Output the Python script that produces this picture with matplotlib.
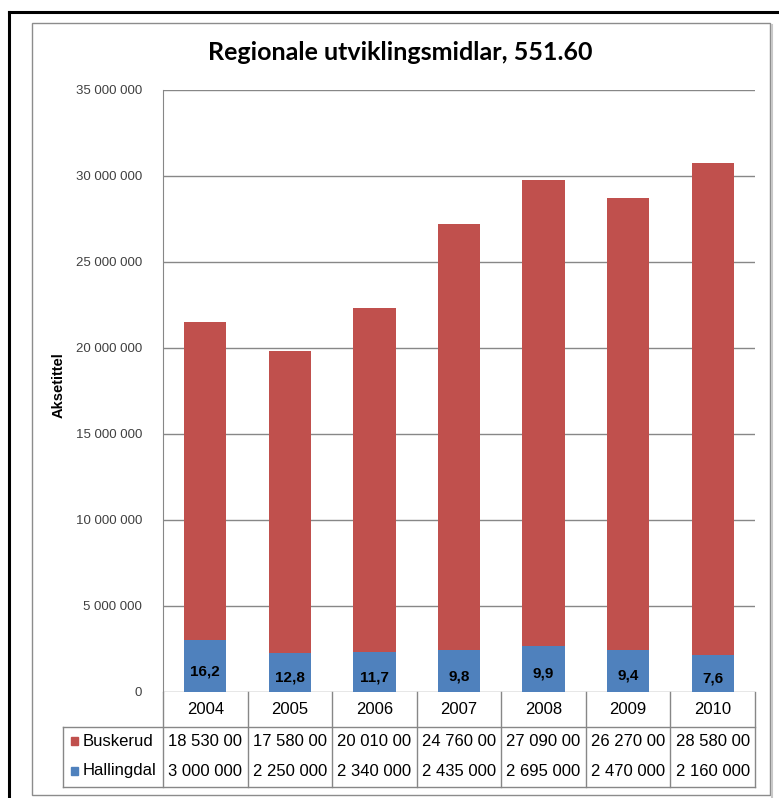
import matplotlib
matplotlib.use("Agg")
import matplotlib.pyplot as plt
from matplotlib.patches import Rectangle
from matplotlib.lines import Line2D
from matplotlib.ticker import FuncFormatter

# --- data ---
years = ["2004", "2005", "2006", "2007", "2008", "2009", "2010"]
buskerud = [18530000, 17580000, 20010000, 24760000, 27090000, 26270000, 28580000]
hallingdal = [3000000, 2250000, 2340000, 2435000, 2695000, 2470000, 2160000]
share_labels = ["16,2", "12,8", "11,7", "9,8", "9,9", "9,4", "7,6"]

red = "#C0504D"
blue = "#4F81BD"
grid_col = "#878787"
txt_col = "#404040"
font = ["Liberation Sans", "DejaVu Sans"]

W, H = 779, 798
fig = plt.figure(figsize=(W / 100, H / 100), dpi=100)

def fx(px):
    return px / W

def fy(py):
    return 1 - py / H

# outer frame (black on top/left) and gray chart border
fig.add_artist(Line2D([fx(9), fx(779)], [fy(12), fy(12)], color="black", lw=2.2))
fig.add_artist(Line2D([fx(9), fx(9)], [fy(12), fy(798)], color="black", lw=2.2))
fig.add_artist(Rectangle((fx(32), fy(795)), fx(770) - fx(32), fy(23) - fy(795),
                         fill=False, ec="#8C8C8C", lw=1.0, transform=fig.transFigure))
fig.add_artist(Line2D([fx(771.5), fx(771.5)], [fy(25), fy(797)], color="#C8C8C8", lw=1.5))

ax = fig.add_axes([fx(163), fy(692), fx(755) - fx(163), fy(90) - fy(692)])

x = list(range(len(years)))
ax.bar(x, hallingdal, width=0.5, color=blue, zorder=3)
ax.bar(x, buskerud, width=0.5, bottom=hallingdal, color=red, zorder=3)

for i in x:
    ax.text(i, hallingdal[i] / 2 - 300000, share_labels[i], ha="center", va="center",
            fontsize=11, fontweight="bold", family=font, color="black", zorder=4)

ax.set_xlim(-0.5, len(years) - 0.5)
ax.set_ylim(0, 35000000)
ax.set_yticks(range(0, 35000001, 5000000))
ax.yaxis.set_major_formatter(FuncFormatter(lambda v, p: "{:,}".format(int(v)).replace(",", " ")))
ax.tick_params(axis="y", length=0, pad=15, labelsize=9.5, labelcolor=txt_col)
for lab in ax.get_yticklabels():
    lab.set_family(font)
ax.set_xticks([])
ax.grid(axis="y", color=grid_col, lw=1, zorder=0)
ax.grid(axis="x", visible=False)
for s in ["top", "right", "bottom"]:
    ax.spines[s].set_visible(False)
ax.spines["left"].set_color(grid_col)

ax.set_ylabel("Aksetittel", fontsize=10.5, fontweight="bold", family=font)
ax.yaxis.set_label_coords((66 - 163) / (755 - 163), 0.51)

fig.text(fx(400), fy(53), "Regionale utviklingsmidlar, 551.60", ha="center", va="center",
         fontsize=18, fontweight="bold", family=["Lato", "DejaVu Sans"])

# --- data table under the axis ---
tr = ax.get_xaxis_transform()
px_per_axes = 692 - 90

def ay(py):
    return (692 - py) / px_per_axes

leg_left = (63 - 163) / (755 - 163)
row_line = ay(727)
tbl_bottom = ay(787)

for i in range(len(years) + 1):
    ax.add_line(Line2D([i - 0.5, i - 0.5], [0, tbl_bottom], transform=tr,
                       color=grid_col, lw=1, clip_on=False))
ax.add_line(Line2D([leg_left, 1], [row_line, row_line], transform=ax.transAxes,
                   color=grid_col, lw=1, clip_on=False))
ax.add_line(Line2D([leg_left, 1], [tbl_bottom, tbl_bottom], transform=ax.transAxes,
                   color=grid_col, lw=1, clip_on=False))
ax.add_line(Line2D([leg_left, leg_left], [row_line, tbl_bottom], transform=ax.transAxes,
                   color=grid_col, lw=1, clip_on=False))

def fmt(v):
    return "{:,}".format(v).replace(",", " ")

for i in x:
    ax.text(i, ay(710), years[i], transform=tr, ha="center", va="center",
            fontsize=12, family=font, color="black", clip_on=False)
    # the original cell is too narrow and cuts the last digit of Buskerud
    ax.text(i, ay(741), fmt(buskerud[i])[:-1], transform=tr, ha="center", va="center",
            fontsize=12, family=font, color="black", clip_on=False)
    ax.text(i, ay(771), fmt(hallingdal[i]), transform=tr, ha="center", va="center",
            fontsize=12, family=font, color="black", clip_on=False)

for name, col, py in [("Buskerud", red, 741), ("Hallingdal", blue, 771)]:
    ax.add_patch(Rectangle((leg_left + 0.013, ay(py) - 0.006), 0.012, 0.012,
                           transform=ax.transAxes, color=col, clip_on=False))
    ax.text(leg_left + 0.033, ay(py), name, transform=ax.transAxes, ha="left", va="center",
            fontsize=12, family=font, color="black", clip_on=False)

fig.savefig("out.png", dpi=100)
